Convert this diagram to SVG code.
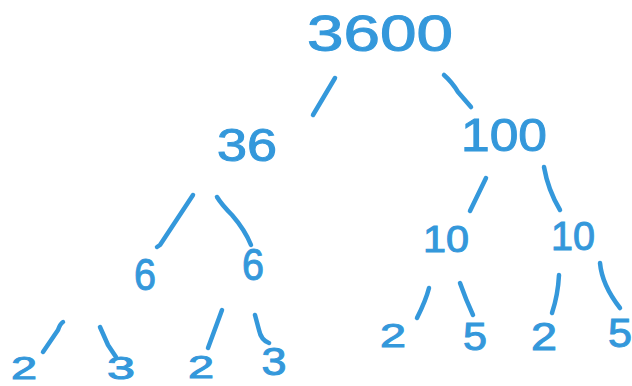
<svg xmlns="http://www.w3.org/2000/svg" width="632" height="386" viewBox="0 0 632 386">
<style>
.n{font-family:"Liberation Sans",Arial,sans-serif;fill:#3498db;stroke:#3498db;stroke-width:1;text-anchor:middle}
.c{fill:none;stroke:#3498db;stroke-width:4.5;stroke-linecap:round;stroke-linejoin:round}
</style>
<rect width="632" height="386" fill="#ffffff"/>
<g id="connectors">
<path class="c" d="M335,78 L313,115"/>
<path class="c" d="M444,75 Q452,82 458,92 L471,107"/>
<path class="c" d="M193,195 L160,245 L157,247"/>
<path class="c" d="M217,197 Q222,205 232,215 Q245,230 251,245"/>
<path class="c" d="M486,178 L470,211"/>
<path class="c" d="M544,167 Q548,190 560,210"/>
<path class="c" d="M63,322 Q60,324 58,330 L43,352"/>
<path class="c" d="M100,327 L108,345 L116,357"/>
<path class="c" d="M222,310 L208,348"/>
<path class="c" d="M255,315 L259,330 Q261,340 269,343"/>
<path class="c" d="M429,288 Q426,300 417,318"/>
<path class="c" d="M460,283 Q466,300 473,315"/>
<path class="c" d="M559,275 Q558,295 552,313"/>
<path class="c" d="M600,263 Q602,285 620,308"/>
</g>
<g id="n3600"><text class="n" x="380" y="51" font-size="50" textLength="146" lengthAdjust="spacingAndGlyphs">3600</text></g>
<g id="n36"><text class="n" x="247" y="161" font-size="46" textLength="60" lengthAdjust="spacingAndGlyphs">36</text></g>
<g id="n100"><text class="n" x="504" y="151" font-size="46" textLength="86" lengthAdjust="spacingAndGlyphs">100</text></g>
<g id="n6a"><text class="n" x="145" y="290" font-size="44" textLength="22" lengthAdjust="spacingAndGlyphs">6</text></g>
<g id="n6b"><text class="n" x="253" y="280" font-size="44" textLength="22" lengthAdjust="spacingAndGlyphs">6</text></g>
<g id="n10a"><text class="n" x="446" y="252" font-size="36" textLength="46" lengthAdjust="spacingAndGlyphs">10</text></g>
<g id="n10b"><text class="n" x="573" y="250" font-size="40" textLength="44" lengthAdjust="spacingAndGlyphs">10</text></g>
<g id="n2a"><text class="n" x="24" y="379" font-size="32" textLength="26" lengthAdjust="spacingAndGlyphs">2</text></g>
<g id="n3a"><text class="n" x="121" y="379" font-size="32" textLength="28" lengthAdjust="spacingAndGlyphs">3</text></g>
<g id="n2b"><text class="n" x="201" y="378" font-size="32" textLength="26" lengthAdjust="spacingAndGlyphs">2</text></g>
<g id="n3b"><text class="n" x="274" y="375" font-size="38" textLength="25" lengthAdjust="spacingAndGlyphs">3</text></g>
<g id="n2c"><text class="n" x="393" y="347" font-size="34" textLength="26" lengthAdjust="spacingAndGlyphs">2</text></g>
<g id="n5a"><text class="n" x="475" y="350" font-size="38" textLength="24" lengthAdjust="spacingAndGlyphs">5</text></g>
<g id="n2d"><text class="n" x="544" y="350" font-size="38" textLength="26" lengthAdjust="spacingAndGlyphs">2</text></g>
<g id="n5b"><text class="n" x="620" y="347" font-size="40" textLength="24" lengthAdjust="spacingAndGlyphs">5</text></g>
</svg>
